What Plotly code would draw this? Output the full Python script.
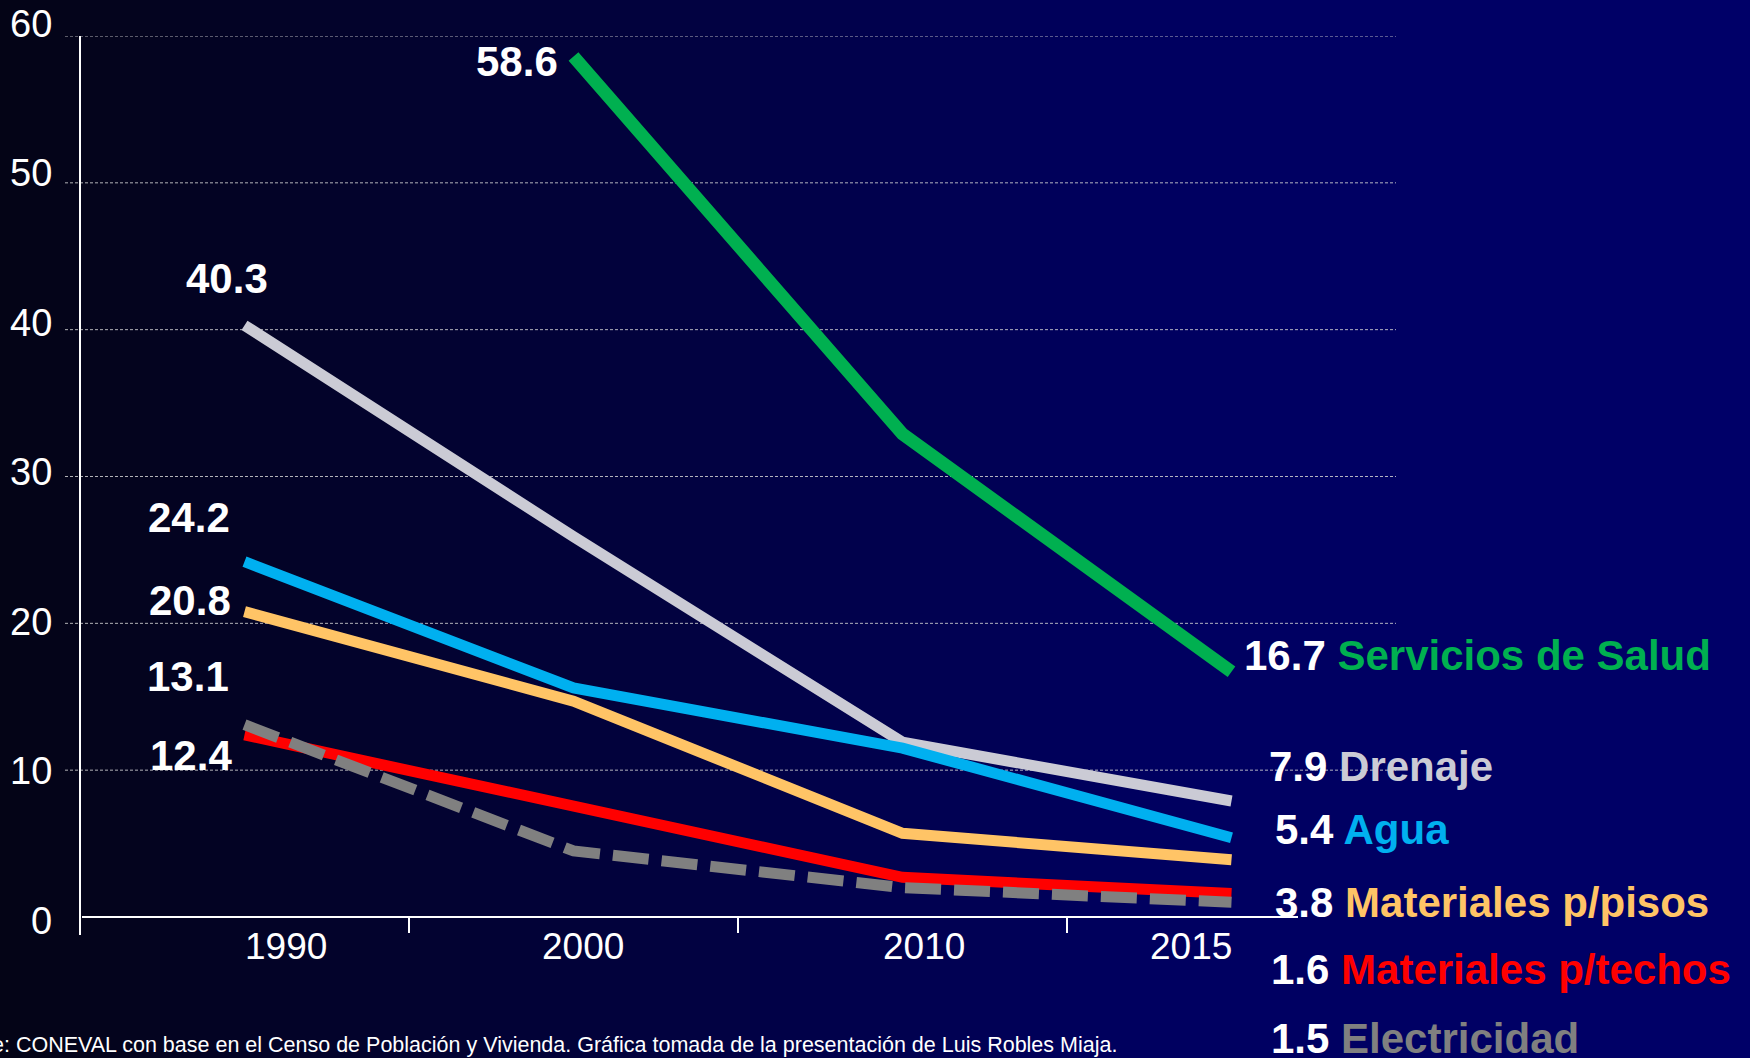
import plotly.graph_objects as go

# ── Data ────────────────────────────────────────────────────────────────
years = ['1990', '2000', '2010', '2015']
salud = [None, 58.6, 32.9, 16.7]
drenaje = [40.3, 25.9, 11.9, 7.9]
agua = [24.2, 15.6, 11.5, 5.4]
pisos = [20.8, 14.7, 5.7, 3.9]
techos = [12.4, 7.5, 2.7, 1.6]
electricidad = [13.1, 4.5, 2.0, 1.0]

series_names = ['Servicios de Salud', 'Drenaje', 'Agua', 'Materiales p/pisos',
                'Materiales p/techos', 'Electricidad']
end_values = ['16.7', '7.9', '5.4', '3.8', '1.6', '1.5']
y_ticks = [0, 10, 20, 30, 40, 50, 60]
source = ('Fuente: CONEVAL con base en el Censo de Población y Vivienda. '
          'Gráfica tomada de la presentación de Luis Robles Miaja.')

# ── Style ───────────────────────────────────────────────────────────────
W, H = 1750, 1058
L, R, T, B = 80, 354, 36, 141
PW, PH = W - L - R, H - T - B
FONT = 'Liberation Sans, Arial, sans-serif'

colors = ['#00B050', '#CBCBD5', '#00B0F0', '#FFC466', '#FF0000', '#808080']
widths = [13, 11, 11, 11, 11, 11]
dashes = ['solid', 'solid', 'solid', 'solid', 'solid', '36px,13px']
# start-label offsets (px) relative to first point
start_shift = [(-14, -5, 'right'), (-18, 47, 'center'), (-56, 44, 'center'),
               (-55, 11, 'center'), (-54, -21, 'center'), (-57, 48, 'center')]
# end labels: left edge x / centre y in figure pixels
end_pos = [(1242, 655), (1267, 766), (1273, 829), (1273, 902), (1269, 970), (1269, 1038)]
year_shift = [41, 9, 21, -41]


def px(x):
    return (x - L) / PW


def py(y):
    return (H - B - y) / PH


data = [salud, drenaje, agua, pisos, techos, electricidad]
xs = list(range(len(years)))

fig = go.Figure()

# Background gradient (black -> navy) as thin strips
stops = [(0, (4, 4, 22)), (620, (2, 2, 60)), (1150, (0, 0, 96)), (1750, (0, 0, 104))]


def grad(x):
    for (x0, c0), (x1, c1) in zip(stops[:-1], stops[1:]):
        if x0 <= x <= x1:
            f = (x - x0) / (x1 - x0)
            return 'rgb(%d,%d,%d)' % tuple(round(a + (b - a) * f) for a, b in zip(c0, c1))
    return 'rgb(0,0,104)'


step = 10
for x in range(0, W, step):
    fig.add_shape(type='rect', xref='paper', yref='paper', layer='below',
                  x0=px(x), x1=px(x + step + 1), y0=py(H), y1=py(0),
                  fillcolor=grad(x + step / 2), line_width=0)

# Gridlines (dashed, extending a little left of the axis)
for v in y_ticks[1:]:
    fig.add_shape(type='line', xref='paper', yref='y', layer='below',
                  x0=-15 / PW, x1=1, y0=v, y1=v,
                  line=dict(color='rgba(210,210,210,0.85)', width=1, dash='3px,2px'))

# Axis lines
fig.add_shape(type='line', xref='paper', yref='paper', x0=0, x1=0, y0=py(935), y1=1,
              line=dict(color='white', width=2))
fig.add_shape(type='line', xref='paper', yref='paper', x0=px(82), x1=px(1298), y0=0, y1=0,
              line=dict(color='white', width=2))

# Series
for name, ys, c, w, d in zip(series_names, data, colors, widths, dashes):
    fig.add_trace(go.Scatter(
        x=xs, y=ys, mode='lines', name=name,
        line=dict(color=c, width=w, dash=d),
        connectgaps=False, showlegend=False, hoverinfo='skip'
    ))

annotations = []

# Y tick labels (the slide's labels sit on a slightly stretched scale)
for v in y_ticks:
    annotations.append(dict(
        x=px(54), y=v, xref='paper', yref='y', text=str(v), showarrow=False,
        xanchor='right', yanchor='middle', yshift=-4 + 0.27 * v,
        font=dict(family=FONT, size=38, color='white')
    ))

# Start labels (first value of each series)
for ys, (dx, dy, anchor) in zip(data, start_shift):
    i = next(k for k, v in enumerate(ys) if v is not None)
    annotations.append(dict(
        x=xs[i], y=ys[i], xref='x', yref='y', text=f'{ys[i]:.1f}',
        showarrow=False, xanchor=anchor, yanchor='middle', xshift=dx, yshift=dy,
        font=dict(family=FONT, size=42, color='white', weight='bold')
    ))

# End labels
for name, val, c, (lx, ly) in zip(series_names, end_values, colors, end_pos):
    annotations.append(dict(
        x=px(lx), y=py(ly), xref='paper', yref='paper',
        text=f"{val} <span style='color:{c}'>{name}</span>",
        showarrow=False, xanchor='left', yanchor='middle',
        font=dict(family=FONT, size=42, color='white', weight='bold')
    ))

# Year labels
for i, (yr, dx) in enumerate(zip(years, year_shift)):
    annotations.append(dict(
        x=xs[i], y=0, xref='x', yref='y', text=yr, showarrow=False,
        xanchor='center', yanchor='middle', xshift=dx, yshift=-29,
        font=dict(family=FONT, size=37, color='white')
    ))

# Source note (runs off the left edge like the original slide)
annotations.append(dict(
    x=px(1119), y=py(1045), xref='paper', yref='paper', text=source,
    showarrow=False, xanchor='right', yanchor='middle',
    font=dict(family=FONT, size=21.5, color='white')
))

fig.update_layout(
    width=W, height=H, autosize=False,
    margin=dict(l=L, r=R, t=T, b=B, pad=0),
    paper_bgcolor='#000030',
    plot_bgcolor='rgba(0,0,0,0)',
    showlegend=False,
    annotations=annotations,
    xaxis=dict(range=[-0.5, 3.5], showgrid=False, zeroline=False, showline=False,
               tickmode='array', tickvals=[0.5, 1.5, 2.5], ticktext=['', '', ''],
               ticks='outside', ticklen=15, tickwidth=2, tickcolor='white'),
    yaxis=dict(range=[0, 60], tickvals=y_ticks, showgrid=False, zeroline=False,
               showline=False, ticks='', showticklabels=False),
)

# remove the default page margin so the figure fills the window
fig.write_html('out.html', config={'displayModeBar': False},
               post_script="document.body.style.margin='0';")
